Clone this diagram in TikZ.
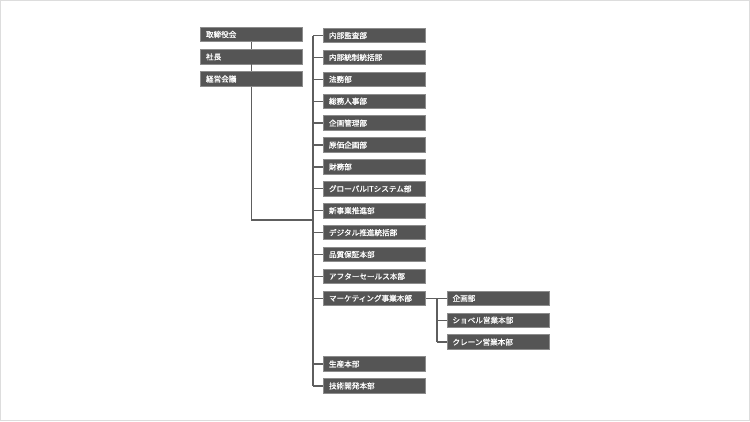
\documentclass[tikz,border=0pt]{standalone}
\usepackage{fontspec}
\newfontfamily\jp[FakeBold=0.8]{Noto Sans CJK JP}
\definecolor{boxfill}{HTML}{555555}
\definecolor{boxline}{HTML}{8C8C8C}
\definecolor{conn}{HTML}{5E5E5E}
\definecolor{frame}{HTML}{DDDDDD}
\tikzset{
  orgbox/.style={draw=boxline, line width=0.8pt, fill=boxfill, text=white,
    font=\jp\fontsize{7.6}{8}\selectfont, inner xsep=5.5pt, inner ysep=0pt,
    minimum height=14.5pt, text width=91pt, align=left, anchor=center},
  wire/.style={draw=conn, line width=1.3pt}
}
\begin{document}
\begin{tikzpicture}[x=1pt,y=-1pt]
\useasboundingbox (0,0) rectangle (750,421);
\draw[frame, line width=1pt] (0.5,0.5) rectangle (749.5,420.5);
% left column
\node[orgbox] (b1) at (251.5,34.5) {取締役会};
\node[orgbox] (b2) at (251.5,56.8) {社長};
\node[orgbox] (b3) at (251.5,79) {経営会議};
% right column
\node[orgbox] (r1) at (374.5,35.5) {内部監査部};
\node[orgbox] (r2) at (374.5,57.4) {内部統制統括部};
\node[orgbox] (r3) at (374.5,79.3) {法務部};
\node[orgbox] (r4) at (374.5,101.2) {総務人事部};
\node[orgbox] (r5) at (374.5,123.1) {企画管理部};
\node[orgbox] (r6) at (374.5,145.0) {原価企画部};
\node[orgbox] (r7) at (374.5,166.9) {財務部};
\node[orgbox] (r8) at (374.5,188.8) {グローバルITシステム部};
\node[orgbox] (r9) at (374.5,210.7) {新事業推進部};
\node[orgbox] (r10) at (374.5,232.6) {デジタル推進統括部};
\node[orgbox] (r11) at (374.5,254.5) {品質保証本部};
\node[orgbox] (r12) at (374.5,276.4) {アフターセールス本部};
\node[orgbox] (r13) at (374.5,298.3) {マーケティング事業本部};
\node[orgbox] (r14) at (374.5,364.0) {生産本部};
\node[orgbox] (r15) at (374.5,385.9) {技術開発本部};
% sub column
\node[orgbox] (s1) at (498,298.3) {企画部};
\node[orgbox] (s2) at (498,320.2) {ショベル営業本部};
\node[orgbox] (s3) at (498,342.1) {クレーン営業本部};
% connector coordinates
\coordinate (tr) at (313,0);
\coordinate (jl) at (313,220);
\coordinate (ts) at (437,0);
% connectors
\draw[wire] (b1.south) -- (b2.north);
\draw[wire] (b2.south) -- (b3.north);
\draw[wire] (b3.south) |- (jl);
\draw[wire] (r1.west -| tr) -- (r15.west -| tr);
\foreach \i in {1,...,15} {
  \draw[wire] (r\i.west -| tr) -- (r\i.west);
}
\draw[wire] (r13.east) -- (s1.west);
\draw[wire] (s1.west -| ts) -- (s3.west -| ts);
\draw[wire] (s2.west -| ts) -- (s2.west);
\draw[wire] (s3.west -| ts) -- (s3.west);
\end{tikzpicture}
\end{document}
